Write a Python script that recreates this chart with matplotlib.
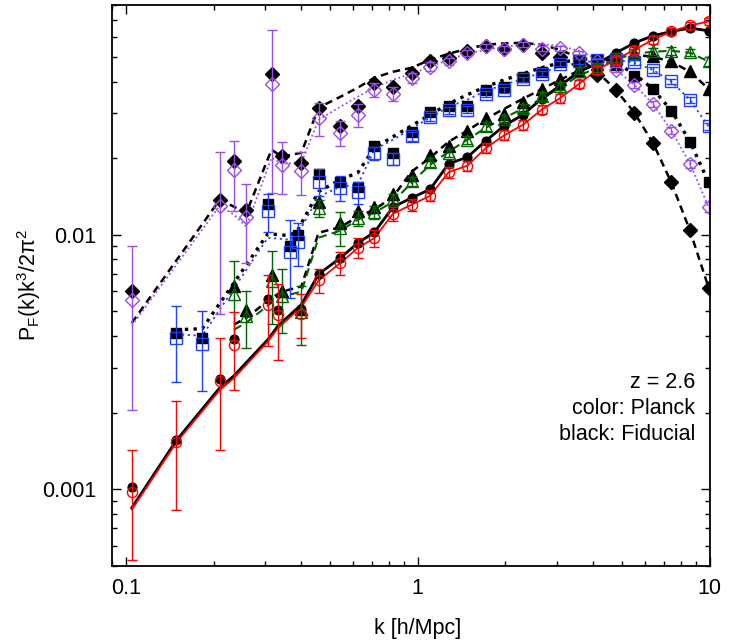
import matplotlib
matplotlib.use('Agg')
import matplotlib.pyplot as plt

plt.rcParams['font.family'] = ['Liberation Sans', 'DejaVu Sans']
plt.rcParams['mathtext.default'] = 'regular'

# k bins [h/Mpc]
k_grid = [0.40, 0.458, 0.544, 0.624, 0.711, 0.824, 0.954, 1.104, 1.278, 1.48, 1.713,
          1.983, 2.296, 2.658, 3.077, 3.562, 4.124, 4.774, 5.527, 6.398, 7.407, 8.575, 9.93]
k_circ = [0.105, 0.149, 0.210, 0.235, 0.307, 0.333] + k_grid
k_tri = [0.235, 0.259, 0.316, 0.343] + k_grid
k_sq = [0.149, 0.183, 0.307, 0.365, 0.389] + k_grid[1:]
k_dia = [0.105, 0.210, 0.235, 0.259, 0.316, 0.343] + k_grid

# circles (black: fiducial, red: planck)
fid_circ = [0.001016, 0.001555, 0.00271, 0.00389, 0.0056, 0.00507, 0.00511, 0.00703, 0.0081,
            0.00928, 0.01021, 0.01285, 0.01394, 0.01509, 0.01901, 0.02016, 0.02341, 0.02682,
            0.02962, 0.03422, 0.0385, 0.0437, 0.047, 0.0518, 0.0567, 0.0605, 0.0629, 0.0649, 0.0633]
planck_circ = [0.000975, 0.001527, 0.00267, 0.0037, 0.00531, 0.00482, 0.00489, 0.00661, 0.00774,
               0.00887, 0.0097, 0.01209, 0.01312, 0.01423, 0.01761, 0.01867, 0.02191, 0.0246,
               0.02705, 0.03098, 0.03444, 0.03904, 0.04449, 0.04871, 0.05333, 0.05838, 0.06292,
               0.06644, 0.06889]
err_circ = [0.00045, 0.0007, 0.00125, 0.00125, 0.00165, 0.0016, 0.00095, 0.0007, 0.00081, 0.0008,
            0.00073, 0.00073, 0.00072, 0.00071, 0.00088, 0.0009, 0.00099, 0.0011, 0.00114, 0.00124,
            0.00138, 0.00148, 0.0016, 0.0017, 0.0019, 0.002, 0.0022, 0.0023, 0.0024]
line_fid_circ = [0.000844, 0.00155, 0.0025, 0.00279, 0.00387, 0.00439, 0.00531, 0.0070, 0.0081,
                 0.00928, 0.01021, 0.01285, 0.01394, 0.01509, 0.01901, 0.02016, 0.02341, 0.02682,
                 0.02962, 0.03422, 0.0385, 0.0437, 0.047, 0.0518, 0.0567, 0.0605, 0.0629, 0.0649, 0.0633]
line_planck_circ = [0.00083, 0.00152, 0.00245, 0.00273, 0.0038, 0.0043, 0.0052, 0.00661, 0.00774,
                    0.00887, 0.0097, 0.01209, 0.01312, 0.01423, 0.01761, 0.01867, 0.02191, 0.0246,
                    0.02705, 0.03098, 0.03444, 0.03904, 0.04449, 0.04871, 0.05333, 0.05838, 0.06292,
                    0.06644, 0.06889]

# triangles (black / green)
fid_tri = [0.00626, 0.00504, 0.00697, 0.00599, 0.00512, 0.01348, 0.0111, 0.01235, 0.01288, 0.01449,
           0.01721, 0.02053, 0.02237, 0.02546, 0.02874, 0.02988, 0.03316, 0.0373, 0.04083, 0.0441,
           0.047, 0.05006, 0.05144, 0.05051, 0.04797, 0.04382, 0.03737]
planck_tri = [0.00586, 0.00478, 0.00656, 0.00572, 0.00497, 0.01273, 0.01063, 0.01163, 0.01223,
              0.01381, 0.0162, 0.01927, 0.02094, 0.02362, 0.02664, 0.02849, 0.03147, 0.03524, 0.0385,
              0.04418, 0.04531, 0.04948, 0.05176, 0.05251, 0.05284, 0.05203, 0.04797]
err_tri = [0.002, 0.0012, 0.0021, 0.0016, 0.0013, 0.001, 0.0016, 0.0008, 0.0007, 0.0007, 0.0007,
           0.0008, 0.0008, 0.0009, 0.001, 0.0011, 0.0012, 0.0013, 0.0014, 0.0015, 0.0016, 0.0016,
           0.0017, 0.0018, 0.0018, 0.0018, 0.0018]
line_fid_tri = [0.00443, 0.00471, 0.00564, 0.00597, 0.00626, 0.01018, 0.0107, 0.01177, 0.01254,
                0.0141, 0.01769, 0.02007, 0.0232, 0.02562, 0.02856, 0.03127, 0.03422, 0.0373, 0.04064,
                0.0441, 0.047, 0.04961, 0.05097, 0.05006, 0.04785, 0.0437, 0.0374]
line_planck_tri = [0.00423, 0.00451, 0.00541, 0.00571, 0.00597, 0.00973, 0.01037, 0.01145, 0.0122,
                   0.01348, 0.016, 0.01884, 0.02119, 0.02362, 0.02633, 0.02883, 0.03127, 0.03422,
                   0.03782, 0.04216, 0.04531, 0.04909, 0.05144, 0.05238, 0.05284, 0.05189, 0.04797]

# squares (black / blue)
fid_sq = [0.00411, 0.00393, 0.01324, 0.00905, 0.01, 0.01729, 0.01616, 0.01544, 0.02223, 0.02094,
          0.02527, 0.03029, 0.03192, 0.03192, 0.03713, 0.03798, 0.04177, 0.0437, 0.04763, 0.04871,
          0.0485, 0.0465, 0.04216, 0.03737, 0.03051, 0.02305, 0.01606]
planck_sq = [0.00393, 0.00373, 0.01235, 0.00852, 0.00933, 0.01616, 0.01526, 0.01466, 0.02094,
             0.01984, 0.02443, 0.02901, 0.03078, 0.03098, 0.03581, 0.0369, 0.04076, 0.043, 0.04707,
             0.04797, 0.0484, 0.04901, 0.04754, 0.04449, 0.04003, 0.03392, 0.02664]
err_sq = [0.0013, 0.0013, 0.0021, 0.0029, 0.0018, 0.002, 0.0017, 0.0015, 0.0012, 0.0011, 0.001,
          0.001, 0.001, 0.001, 0.001, 0.001, 0.001, 0.001, 0.0011, 0.0011, 0.0011, 0.0011, 0.0011,
          0.0011, 0.001, 0.001, 0.0009]
line_fid_sq = [0.00423, 0.00427, 0.01009, 0.00991, 0.01046, 0.01476, 0.01645, 0.01753, 0.02197,
               0.02428, 0.02682, 0.02962, 0.03271, 0.03549, 0.03815, 0.04064, 0.04292, 0.04531,
               0.04741, 0.04893, 0.0491, 0.04741, 0.04292, 0.0374, 0.03073, 0.0232, 0.01606]
line_planck_sq = [0.00405, 0.00401, 0.00973, 0.00956, 0.01009, 0.0141, 0.01544, 0.01572, 0.02158,
                  0.02362, 0.02609, 0.02883, 0.03184, 0.03392, 0.0368, 0.03886, 0.04102, 0.04331,
                  0.04572, 0.04741, 0.04827, 0.04871, 0.04741, 0.04449, 0.03993, 0.03392, 0.02657]

# diamonds (black / purple)
fid_dia = [0.00599, 0.01372, 0.01941, 0.01254, 0.04292, 0.0203, 0.01913, 0.03147, 0.02682, 0.03192,
           0.03946, 0.03805, 0.04331, 0.04797, 0.0497, 0.05251, 0.05514, 0.05357, 0.05579, 0.05176,
           0.05006, 0.047, 0.04253, 0.0369, 0.03007, 0.02293, 0.01606, 0.0104, 0.00617]
planck_dia = [0.00555, 0.013, 0.01789, 0.01177, 0.0391, 0.01884, 0.01773, 0.02874, 0.02509, 0.02962,
              0.03713, 0.03581, 0.0414, 0.04572, 0.04797, 0.05176, 0.05495, 0.05367, 0.05579,
              0.05381, 0.05406, 0.05176, 0.04797, 0.04449, 0.03886, 0.03271, 0.02562, 0.01901, 0.01285]
err_dia = [0.0035, 0.0081, 0.0055, 0.004, 0.0245, 0.0044, 0.0034, 0.0042, 0.0028, 0.003, 0.0025,
           0.0022, 0.002, 0.0018, 0.0016, 0.0015, 0.0014, 0.0013, 0.0013, 0.0012, 0.0012, 0.0011,
           0.0011, 0.001, 0.001, 0.0009, 0.0008, 0.0007, 0.0006]
line_fid_dia = [0.0045, 0.01372, 0.01288, 0.01217, 0.02158, 0.02025, 0.021, 0.03158, 0.03485,
                0.03782, 0.0414, 0.0437, 0.04531, 0.04871, 0.05144, 0.05381, 0.05579, 0.05655, 0.0568,
                0.05579, 0.05333, 0.04961, 0.0437, 0.03713, 0.03018, 0.02297, 0.016, 0.01036, 0.00619]
line_planck_dia = [0.00439, 0.013, 0.01198, 0.01075, 0.02007, 0.01901, 0.01918, 0.02831, 0.03184,
                   0.03485, 0.03782, 0.04064, 0.04292, 0.04572, 0.04871, 0.05144, 0.05333, 0.0548,
                   0.05579, 0.05606, 0.05529, 0.05284, 0.0491, 0.04449, 0.03886, 0.03271, 0.02562,
                   0.01901, 0.01285]

RED = '#ff0000'
GREEN = '#006400'
BLUE = '#1f3fff'
PURPLE = '#9b4de8'
FS = 15.5

fig = plt.figure(figsize=(7.31, 6.42), dpi=100)
ax = fig.add_axes([0.1532, 0.1189, 0.8174, 0.8734])
ax.set_xscale('log')
ax.set_yscale('log')

# model lines
ax.plot(k_dia, line_fid_dia, color='black', lw=1.8, ls=(0, (3, 2)))
ax.plot(k_dia, line_planck_dia, color=PURPLE, lw=1.3, ls=(0, (1, 1.5)))
ax.plot(k_sq, line_fid_sq, color='black', lw=2.4, ls=(0, (1, 1.6)))
ax.plot(k_sq, line_planck_sq, color=BLUE, lw=1.3, ls=(0, (1.2, 2)))
ax.plot(k_tri, line_fid_tri, color='black', lw=1.8, ls=(0, (3, 2)))
ax.plot(k_tri, line_planck_tri, color=GREEN, lw=1.5, ls=(0, (4, 2.5)))
ax.plot(k_circ, line_fid_circ, color='black', lw=2.0)
ax.plot(k_circ, line_planck_circ, color=RED, lw=1.3)

# fiducial points
ax.plot(k_dia, fid_dia, ls='none', marker='D', ms=7.2, color='black')
ax.plot(k_sq, fid_sq, ls='none', marker='s', ms=7, color='black')
ax.plot(k_tri, fid_tri, ls='none', marker='^', ms=8, color='black')
ax.plot(k_circ, fid_circ, ls='none', marker='o', ms=6.3, color='black')

# planck points with errors
for kk, vals, err, col, mk, ms in [(k_dia, planck_dia, err_dia, PURPLE, 'D', 7.2),
                                   (k_sq, planck_sq, err_sq, BLUE, 's', 8),
                                   (k_tri, planck_tri, err_tri, GREEN, '^', 8.5),
                                   (k_circ, planck_circ, err_circ, RED, 'o', 7.3)]:
    ax.errorbar(kk, vals, yerr=err, fmt='none', ecolor=col, elinewidth=1.0, capsize=3.5, capthick=1.0)
    ax.plot(kk, vals, ls='none', marker=mk, ms=ms, mfc='none', mec=col, mew=1.0)

ax.set_xlim(0.0898, 10)
ax.set_ylim(0.0005, 0.08)
ax.set_xticks([0.1, 1, 10])
ax.set_xticklabels(['0.1', '1', '10'])
ax.set_yticks([0.001, 0.01])
ax.set_yticklabels(['0.001', '0.01'])
ax.tick_params(which='both', direction='in', top=True, right=True, width=1.0, labelsize=FS)
ax.tick_params(which='major', length=6.5)
ax.tick_params(which='minor', length=3.5)
ax.tick_params(axis='y', which='major', pad=11.5)
ax.tick_params(axis='x', which='major', pad=9)
for s in ax.spines.values():
    s.set_linewidth(1.3)

ax.set_xlabel('k [h/Mpc]', fontsize=FS)
ax.xaxis.set_label_coords(0.512, -0.093)
ax.set_ylabel('P$_F$(k)k$^3$/2π$^2$', fontsize=FS)
ax.yaxis.set_label_coords(-0.115, 0.5)

ax.text(0.9757, 0.3258, 'z = 2.6', transform=ax.transAxes, ha='right', va='center', fontsize=FS)
ax.text(0.9757, 0.2796, 'color: Planck', transform=ax.transAxes, ha='right', va='center', fontsize=FS)
ax.text(0.9757, 0.2332, 'black: Fiducial', transform=ax.transAxes, ha='right', va='center', fontsize=FS)

fig.savefig('out.png', dpi=100)
